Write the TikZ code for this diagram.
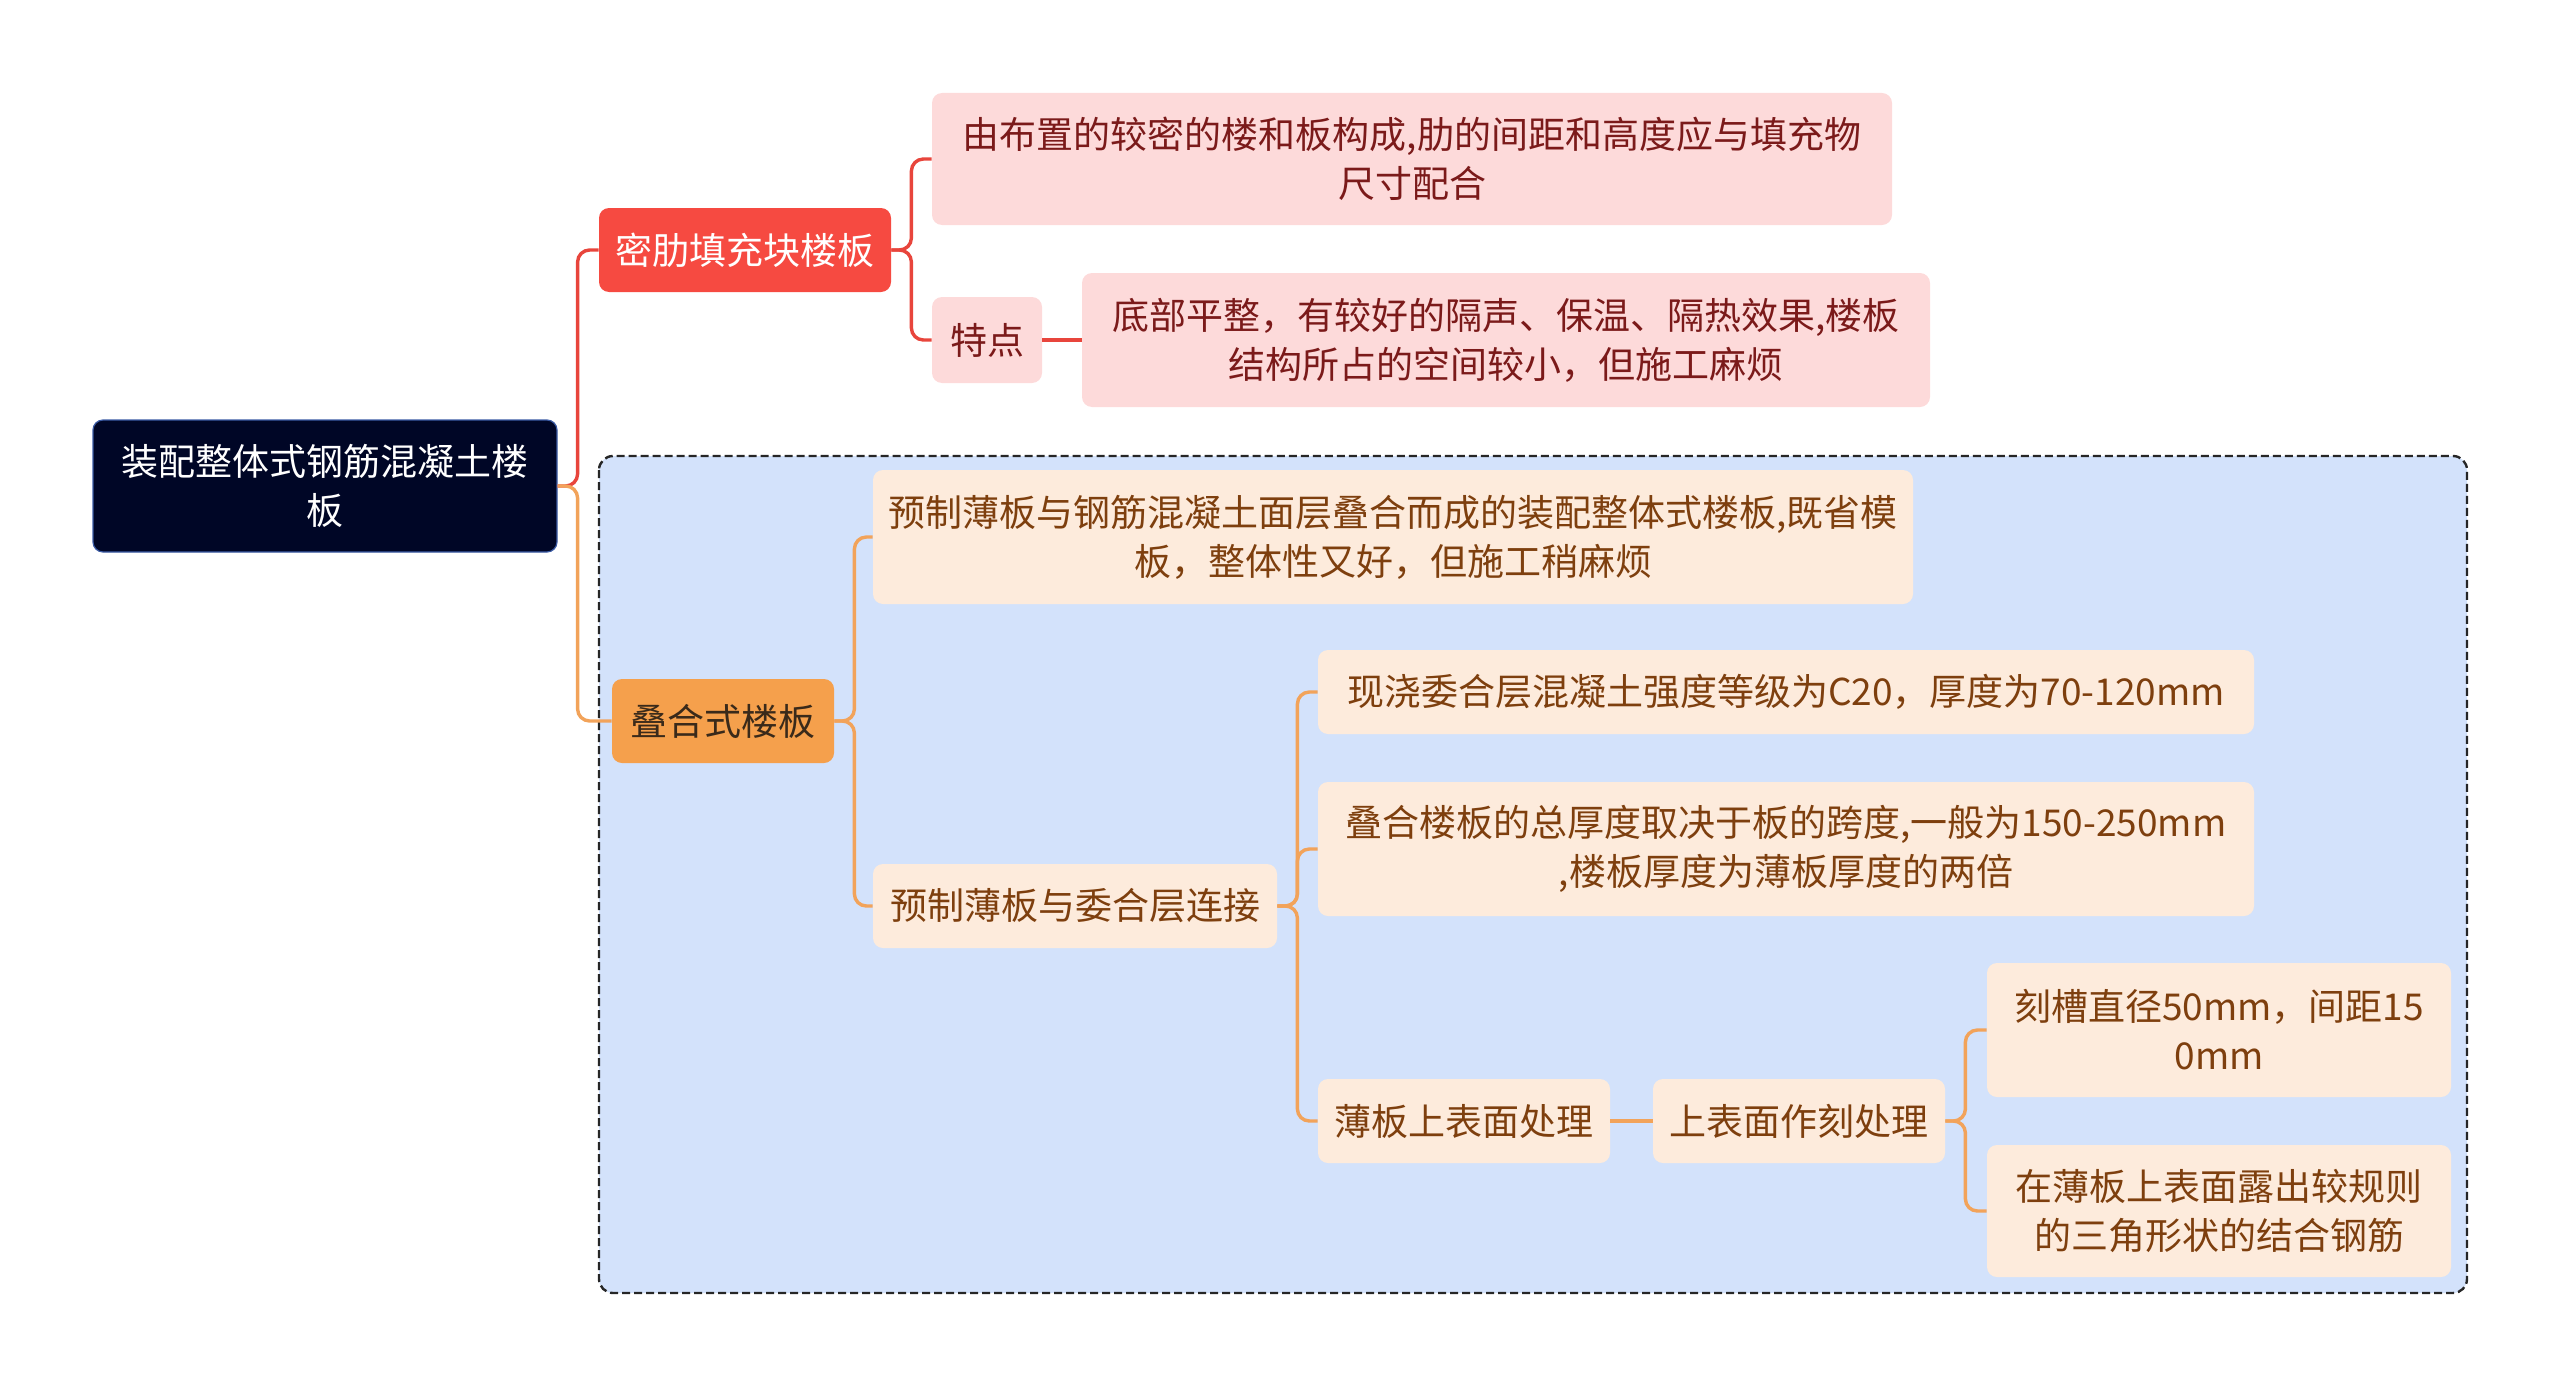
\documentclass[tikz,border=0pt]{standalone}
\usepackage{fontspec}
\setmainfont{Noto Sans CJK SC}
\usepackage{tikz}
\definecolor{rootfill}{HTML}{000626}
\definecolor{rootline}{HTML}{3B5BA5}
\definecolor{redfill}{HTML}{F64A41}
\definecolor{pinkfill}{HTML}{FDDADA}
\definecolor{pinktext}{HTML}{7B1A1A}
\definecolor{orangefill}{HTML}{F5A04C}
\definecolor{orangetext}{HTML}{3A2A1A}
\definecolor{creamfill}{HTML}{FDEBDC}
\definecolor{creamtext}{HTML}{7E3F0E}
\definecolor{regionfill}{HTML}{D3E2FB}
\definecolor{redwire}{HTML}{E8453C}
\definecolor{orangewire}{HTML}{F2A35A}
\tikzset{
  box/.style={rounded corners=5pt, align=center, inner sep=0pt,
    font=\fontsize{18.5}{24.5}\selectfont},
  rootbox/.style={box, fill=rootfill, draw=rootline, line width=0.6pt, text=white},
  redbox/.style={box, fill=redfill, text=white},
  pinkbox/.style={box, fill=pinkfill, text=pinktext},
  orangebox/.style={box, fill=orangefill, text=orangetext},
  creambox/.style={box, fill=creamfill, text=creamtext},
  redwire/.style={draw=redwire, line width=1.7pt, rounded corners=6pt},
  orangewire/.style={draw=orangewire, line width=1.7pt, rounded corners=6pt}
}
\begin{document}
\begin{tikzpicture}[x=0.5pt, y=-0.5pt]
        \useasboundingbox (0, 0) rectangle (2560, 1386);
        \draw[draw=black!85, fill=regionfill, line width=1.2pt, dash pattern=on 4pt off 2pt, rounded corners=7pt]
          (599, 456) rectangle (2467, 1293);
        \node[rootbox, minimum width=232pt, minimum height=66pt] (R) at (325, 486) {装配整体式钢筋混凝土楼\\板};
        \node[redbox, minimum width=146pt, minimum height=42pt] (A1) at (745, 250) {密肋填充块楼板};
        \node[pinkbox, minimum width=480pt, minimum height=66pt] (A2) at (1412, 159) {由布置的较密的楼和板构成,肋的间距和高度应与填充物\\尺寸配合};
        \node[pinkbox, minimum width=55pt, minimum height=43pt] (B2) at (987, 340) {特点};
        \node[pinkbox, minimum width=424pt, minimum height=67pt] (B3) at (1506, 340) {底部平整，有较好的隔声、保温、隔热效果,楼板\\结构所占的空间较小，但施工麻烦};
        \node[orangebox, minimum width=111pt, minimum height=42pt] (C1) at (723, 721) {叠合式楼板};
        \node[creambox, minimum width=520pt, minimum height=67pt] (C2) at (1393, 537) {预制薄板与钢筋混凝土面层叠合而成的装配整体式楼板,既省模\\板，整体性又好，但施工稍麻烦};
        \node[creambox, minimum width=202pt, minimum height=42pt] (D2) at (1075, 906) {预制薄板与委合层连接};
        \node[creambox, minimum width=468pt, minimum height=42pt] (D3) at (1786, 692) {现浇委合层混凝土强度等级为C20，厚度为70-120mm};
        \node[creambox, minimum width=468pt, minimum height=67pt] (E3) at (1786, 849) {叠合楼板的总厚度取决于板的跨度,一般为150-250mm\\,楼板厚度为薄板厚度的两倍};
        \node[creambox, minimum width=146pt, minimum height=42pt] (F3) at (1464, 1121) {薄板上表面处理};
        \node[creambox, minimum width=146pt, minimum height=42pt] (F4) at (1799, 1121) {上表面作刻处理};
        \node[creambox, minimum width=232pt, minimum height=67pt] (F5) at (2219, 1030) {刻槽直径50mm，间距15\\0mm};
        \node[creambox, minimum width=232pt, minimum height=66pt] (G5) at (2219, 1211) {在薄板上表面露出较规则\\的三角形状的结合钢筋};
        \draw[redwire] (R.east) -- ++(20, 0) |- (A1.west);
        \draw[orangewire] (R.east) -- ++(20, 0) |- (C1.west);
        \draw[redwire] (A1.east) -- ++(20, 0) |- (A2.west);
        \draw[redwire] (A1.east) -- ++(20, 0) |- (B2.west);
        \draw[redwire] (B2) -- (B3);
        \draw[orangewire] (C1.east) -- ++(20, 0) |- (C2.west);
        \draw[orangewire] (C1.east) -- ++(20, 0) |- (D2.west);
        \draw[orangewire] (D2.east) -- ++(20, 0) |- (D3.west);
        \draw[orangewire] (D2.east) -- ++(20, 0) |- (E3.west);
        \draw[orangewire] (D2.east) -- ++(20, 0) |- (F3.west);
        \draw[orangewire] (F3) -- (F4);
        \draw[orangewire] (F4.east) -- ++(20, 0) |- (F5.west);
        \draw[orangewire] (F4.east) -- ++(20, 0) |- (G5.west);
      \end{tikzpicture}
\end{document}
